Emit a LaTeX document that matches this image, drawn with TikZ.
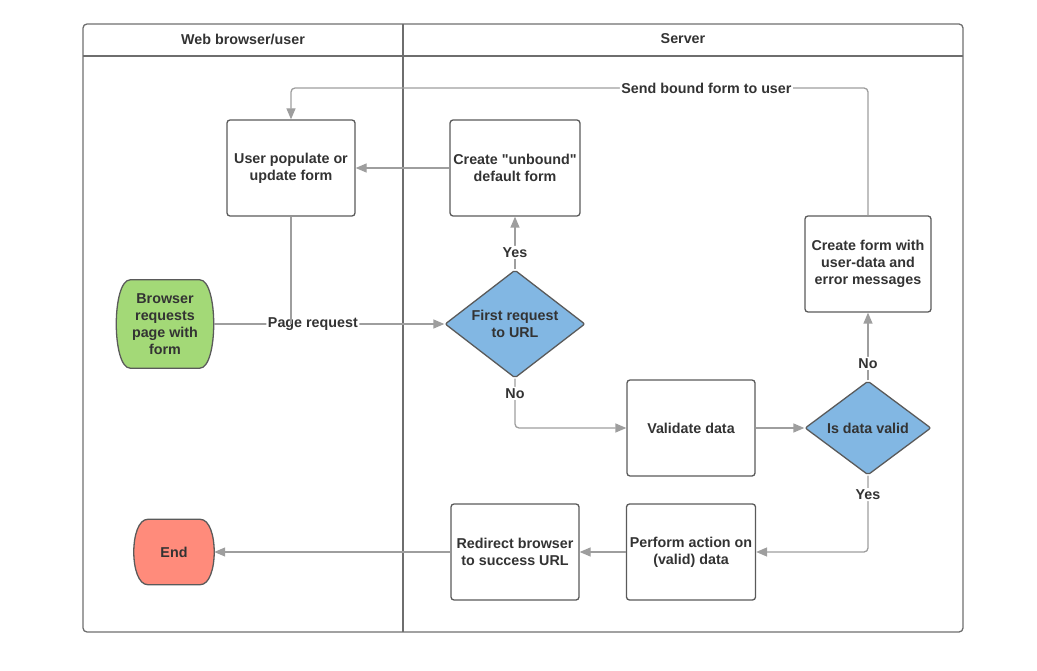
\documentclass[tikz,border=0pt]{standalone}
\usepackage{fontspec}
\setmainfont{Liberation Sans}
\usetikzlibrary{shapes.geometric,arrows.meta,backgrounds}
\definecolor{framegray}{HTML}{6E6E6E}
\definecolor{boxgray}{HTML}{5A5A5A}
\definecolor{linegray}{HTML}{9E9E9E}
\definecolor{txtgray}{HTML}{333333}
\definecolor{termgreen}{HTML}{A3D977}
\definecolor{termred}{HTML}{FF8B7B}
\definecolor{decblue}{HTML}{82B7E3}
\tikzset{
  every node/.style={text=txtgray, font=\fontsize{14.3}{17}\selectfont\bfseries, align=center},
  stepbox/.style={draw=boxgray, line width=1.3pt, rounded corners=3pt, fill=white,
    minimum width=128pt, minimum height=96pt},
  decision/.style={draw=boxgray, line width=1.3pt, shape=diamond, aspect=1.5, inner sep=0pt,
    fill=decblue, rounded corners=2pt},
  terminal/.style={inner sep=0pt},
  conn/.style={draw=linegray, line width=1.3pt, rounded corners=4pt},
  arr/.style={conn, -{Triangle[length=11pt,width=9pt]}},
  lbl/.style={fill=white, inner sep=1.5pt}
}
% outline of a terminal node: flat top and bottom, bulging sides
\newcommand{\termshape}[2]{%
  \begin{scope}[on background layer]
  \draw[draw=boxgray, line width=1.3pt, fill=#2]
    ([xshift=14pt]#1.north west) -- ([xshift=-14pt]#1.north east)
    .. controls ([xshift=4.7pt]#1.north east) and ([xshift=4.7pt]#1.south east) .. ([xshift=-14pt]#1.south east)
    -- ([xshift=14pt]#1.south west)
    .. controls ([xshift=-4.7pt]#1.south west) and ([xshift=-4.7pt]#1.north west) .. cycle;
  \end{scope}}
\begin{document}
\begin{tikzpicture}[x=1pt,y=-1pt]
\useasboundingbox (0,0) rectangle (1037,671);
% lanes
\draw[framegray, line width=1.3pt, rounded corners=4pt] (83,24) rectangle (963,632);
\draw[framegray, line width=1.3pt] (83,56) -- (963,56);
\draw[framegray, line width=1.3pt] (403,24) -- (403,632);
\node (laneuser) at (243,39) {Web browser/user};
\node (laneserver) at (683,39) {Server};

% nodes
\node[stepbox] (US) at (291,168) {User populate or\\update form};
\node[stepbox] (CU) at (515,168) {Create \textquotedbl unbound\textquotedbl\\default form};
\node[terminal, minimum width=97pt, minimum height=88pt] (BR) at (165,324) {Browser\\requests\\page with\\form};
\node[decision, minimum width=140pt, minimum height=108pt] (FR) at (515,324) {First request\\to URL};
\node[stepbox] (VD) at (691,428) {Validate data};
\node[decision, minimum width=126pt, minimum height=94pt] (DV) at (868,428) {Is data valid};
\node[stepbox, minimum width=126pt] (CF) at (868,264) {Create form with\\user-data and\\error messages};
\node[stepbox] (PA) at (691,552) {Perform action on\\(valid) data};
\node[stepbox] (RB) at (515,552) {Redirect browser\\to success URL};
\node[terminal, minimum width=80pt, minimum height=65pt] (EN) at (174,552) {End};
\termshape{BR}{termgreen}
\termshape{EN}{termred}
\coordinate (sendturn) at (868,88);

% connectors
\draw[arr] (BR) -- node[lbl, pos=0.43] {Page request} (FR);
\draw[conn] (US) -- (US.south |- FR.west);
\draw[arr] (CU) -- (US);
\draw[arr] (FR) -- node[lbl, pos=0.32] {Yes} (CU);
\draw[arr] (FR.south) |- node[lbl, pos=0.15] {No} (VD.west);
\draw[arr] (VD) -- (DV);
\draw[arr] (DV) -- node[lbl, pos=0.25] {No} (CF);
\draw[arr] (CF.north) -- (sendturn) -| node[lbl, pos=0.14] {Send bound form to user} (US.north);
\draw[arr] (DV.south) |- node[lbl, pos=0.125] {Yes} (PA.east);
\draw[arr] (PA) -- (RB);
\draw[arr] (RB) -- (EN);
\end{tikzpicture}
\end{document}
